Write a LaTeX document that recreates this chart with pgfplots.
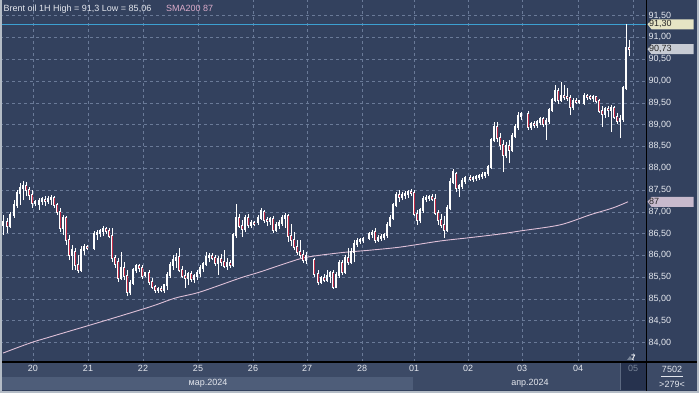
\documentclass[border=0pt]{standalone}
\usepackage{pgfplots}
\pgfplotsset{compat=1.18}
\usepackage{pgfplotstable}
\usepackage{fontspec}
\setmainfont{Liberation Sans}
\definecolor{bg}{RGB}{51,65,94}
\definecolor{dayrow}{RGB}{60,74,102}
\definecolor{monthlight}{RGB}{78,93,121}
\definecolor{box05}{RGB}{38,50,78}
\definecolor{gridc}{RGB}{106,122,152}
\definecolor{candred}{RGB}{196,44,72}
\definecolor{smac}{RGB}{222,192,216}
\definecolor{cyanl}{RGB}{60,160,210}
\definecolor{lab1}{RGB}{230,228,196}
\definecolor{lab2}{RGB}{200,204,212}
\definecolor{lab3}{RGB}{200,186,205}
\definecolor{txt}{RGB}{228,231,238}
\definecolor{smatxt}{RGB}{220,172,202}
\definecolor{framec}{RGB}{180,188,198}
\definecolor{dimtxt}{RGB}{120,132,152}
\newcommand{\lf}{\fontsize{9bp}{10bp}\selectfont}

\pgfplotstableread{
x o h l c
3 86.70 86.93 86.47 86.76
7 86.76 86.86 86.51 86.67
10 86.67 86.99 86.63 86.93
14 86.93 87.27 86.86 87.16
17 87.16 87.50 87.09 87.43
20 87.43 87.66 87.16 87.55
23 87.55 87.71 87.27 87.59
26 87.59 87.68 87.36 87.50
29 87.50 87.57 87.27 87.39
32 87.39 87.50 87.09 87.20
35 87.20 87.27 87.13 87.22
39 87.18 87.32 87.04 87.25
42 87.25 87.34 87.16 87.29
45 87.27 87.36 87.13 87.25
48 87.25 87.36 87.18 87.29
51 87.29 87.39 87.16 87.32
54 87.32 87.36 87.09 87.16
57 87.16 87.20 86.93 86.99
60 86.99 87.09 86.54 86.63
63 86.63 86.93 86.47 86.86
66 86.86 86.90 86.24 86.35
69 86.35 86.47 85.89 86.01
72 86.01 86.24 85.67 86.12
75 86.07 86.17 85.67 85.78
78 85.78 86.01 85.60 85.67
81 85.67 86.21 85.62 86.12
84 86.12 86.26 86.01 86.19
87 86.19 86.24 86.12 86.17
94 86.17 86.56 86.12 86.49
97 86.49 86.58 86.35 86.51
100 86.51 86.60 86.42 86.56
103 86.56 86.67 86.44 86.60
106 86.60 86.65 86.49 86.56
109 86.56 86.63 86.40 86.44
112 86.44 86.63 85.84 85.94
115 85.94 86.01 85.71 85.80
118 85.84 85.94 85.39 85.49
121 85.49 86.07 85.44 85.71
124 85.71 85.84 85.44 85.53
127 85.53 85.67 85.06 85.16
130 85.16 85.44 85.09 85.37
133 85.37 85.71 85.32 85.67
136 85.67 85.80 85.60 85.76
139 85.76 85.80 85.62 85.71
142 85.71 85.78 85.46 85.53
145 85.55 85.62 85.51 85.60
149 85.60 85.67 85.32 85.39
152 85.39 85.49 85.23 85.28
155 85.28 85.32 85.14 85.21
158 85.21 85.28 85.14 85.23
161 85.23 85.30 85.16 85.21
164 85.21 85.35 85.14 85.32
167 85.32 85.62 85.21 85.55
170 85.55 85.84 85.49 85.78
173 85.78 86.01 85.67 85.89
176 85.89 86.05 85.71 85.94
179 85.96 86.17 85.62 85.67
182 85.67 85.76 85.49 85.53
185 85.53 85.67 85.25 85.49
188 85.49 85.62 85.32 85.58
191 85.58 85.64 85.39 85.46
194 85.46 85.58 85.37 85.53
197 85.53 85.67 85.44 85.60
200 85.60 85.78 85.51 85.71
203 85.71 85.84 85.62 85.80
206 85.80 86.07 85.76 85.96
209 85.96 86.05 85.84 85.99
212 85.99 86.05 85.89 85.94
215 85.94 86.01 85.76 85.82
218 85.82 85.99 85.55 85.92
221 85.92 86.03 85.76 85.84
224 85.84 86.12 85.71 85.76
227 85.76 85.94 85.67 85.82
230 85.82 85.89 85.71 85.78
233 85.78 86.51 85.73 86.47
236 86.47 87.18 86.40 86.86
239 86.86 86.95 86.63 86.67
242 86.67 86.81 86.42 86.60
245 86.60 86.93 86.54 86.86
248 86.86 86.95 86.63 86.70
251 86.70 86.81 86.63 86.74
254 86.74 86.79 86.67 86.72
258 86.76 86.93 86.70 86.86
261 86.86 87.09 86.81 87.02
264 86.99 87.04 86.74 86.81
267 86.81 86.88 86.67 86.79
270 86.79 86.88 86.70 86.83
273 86.83 86.90 86.51 86.58
276 86.58 86.76 86.54 86.70
279 86.70 86.81 86.60 86.74
282 86.74 86.93 86.67 86.86
285 86.86 86.97 86.63 86.90
288 86.90 86.95 86.31 86.44
291 86.44 86.72 86.21 86.35
294 86.35 86.54 86.12 86.19
297 86.19 86.35 86.01 86.07
300 86.07 86.35 85.94 86.01
303 86.01 86.12 85.82 85.89
306 85.89 86.07 85.80 85.99
314 85.89 85.94 85.51 85.58
318 85.58 85.67 85.32 85.39
321 85.39 85.53 85.35 85.49
324 85.49 85.58 85.39 85.44
327 85.44 85.67 85.39 85.53
330 85.53 85.64 85.37 85.60
333 85.60 85.67 85.23 85.28
336 85.28 85.62 85.25 85.55
339 85.55 85.89 85.49 85.82
342 85.82 85.89 85.55 85.62
345 85.62 86.01 85.58 85.94
348 85.94 86.17 85.78 85.84
351 85.84 86.17 85.80 86.07
354 86.07 86.35 85.84 86.26
357 86.26 86.40 86.19 86.33
360 86.33 86.40 86.26 86.35
363 86.35 86.42 86.28 86.38
369 86.40 86.54 86.35 86.49
372 86.49 86.58 86.40 86.51
375 86.54 86.63 86.28 86.35
378 86.35 86.47 86.31 86.40
381 86.40 86.49 86.33 86.42
384 86.42 86.51 86.35 86.47
387 86.47 86.76 86.40 86.70
390 86.70 86.93 86.65 86.86
393 86.86 87.20 86.81 87.16
396 87.16 87.45 87.11 87.39
399 87.39 87.50 87.22 87.34
402 87.34 87.45 87.27 87.39
405 87.39 87.48 87.29 87.41
408 87.41 87.50 87.32 87.45
411 87.45 87.52 87.36 87.43
414 87.43 87.50 86.90 86.95
417 86.95 87.04 86.70 86.81
420 86.81 87.09 86.74 87.04
423 87.04 87.36 86.97 87.29
426 87.29 87.39 87.22 87.32
429 87.32 87.39 87.25 87.34
432 87.34 87.41 87.25 87.29
435 87.29 87.41 86.93 86.97
438 86.97 87.04 86.70 86.81
441 86.81 86.95 86.63 86.70
444 86.70 86.90 86.40 86.58
447 86.58 87.16 86.54 87.09
450 87.09 87.78 87.04 87.68
453 87.68 87.98 87.64 87.91
456 87.87 87.91 87.45 87.55
459 87.55 87.64 87.34 87.59
462 87.59 87.78 87.52 87.71
465 87.71 87.82 87.64 87.78
470 87.78 87.85 87.71 87.75
473 87.75 87.82 87.68 87.78
476 87.78 87.85 87.71 87.80
479 87.80 87.87 87.73 87.82
482 87.82 87.91 87.75 87.85
485 87.85 87.91 87.78 87.89
488 87.89 88.07 87.82 88.03
491 88.03 88.69 87.98 88.65
494 88.65 89.06 88.60 88.95
497 88.95 89.06 88.60 88.69
500 88.69 88.81 88.42 88.53
503 88.53 88.65 87.91 88.30
506 88.30 88.60 88.23 88.51
509 88.51 88.65 88.12 88.42
512 88.42 88.81 88.37 88.74
515 88.74 89.01 88.69 88.95
518 88.95 89.29 88.88 89.20
521 89.20 89.29 89.11 89.24
528 89.24 89.31 88.88 88.95
531 88.95 89.06 88.88 89.01
534 89.01 89.08 88.92 88.99
537 88.99 89.11 88.92 89.06
540 89.06 89.17 88.99 89.13
543 89.13 89.17 88.95 89.01
546 89.01 89.15 88.65 89.08
549 89.08 89.38 89.01 89.34
552 89.34 89.61 89.29 89.56
555 89.56 89.91 89.52 89.77
558 89.77 89.84 89.47 89.56
561 89.56 89.98 89.52 89.66
564 89.66 89.91 89.56 89.63
567 89.63 89.84 89.54 89.61
570 89.61 89.68 89.22 89.40
573 89.40 89.61 89.34 89.54
576 89.54 89.61 89.47 89.52
579 89.52 89.56 89.47 89.54
584 89.50 89.72 89.45 89.66
587 89.66 89.70 89.56 89.63
590 89.63 89.68 89.56 89.61
593 89.61 89.68 89.52 89.63
596 89.63 89.66 89.50 89.54
599 89.54 89.59 89.27 89.31
602 89.31 89.43 88.95 89.24
605 89.24 89.40 89.15 89.36
608 89.36 89.43 89.17 89.34
611 89.34 89.45 88.83 89.38
614 89.38 89.43 89.13 89.17
617 89.17 89.27 89.01 89.08
620 89.08 89.22 88.69 89.13
623 89.13 89.88 89.06 89.84
626 89.84 91.30 89.79 90.76
629 90.76 90.94 90.57 90.73
}\candles

\begin{document}
\begin{tikzpicture}
\useasboundingbox (0,0) rectangle (699bp,393bp);
\fill[bg] (0,0) rectangle (699bp,393bp);
\fill[dayrow] (0,16bp) rectangle (699bp,31bp);
\fill[monthlight] (0,3bp) rectangle (413bp,16bp);
\fill[dayrow] (413bp,3bp) rectangle (699bp,16bp);
\fill[box05] (620bp,3bp) rectangle (646bp,31bp);
\draw[dimtxt!60!bg, line width=0.6bp] (620bp,3bp) -- (620bp,31bp);
\begin{axis}[
  at={(0,31bp)}, anchor=south west,
  width=646bp, height=362bp, scale only axis,
  xmin=0, xmax=646, ymin=83.555, ymax=91.858,
  axis line style={draw=none},
  tick style={draw=none},
  xtick={33,88,143,198,253,307,362,414,468,522,578,633},
  xticklabels={20,21,22,25,26,27,28,01,02,03,04,{\textcolor{dimtxt}{05}}},
  ytick={84,84.5,85,85.5,86,86.5,87,87.5,88,88.5,89,89.5,90,90.5,91,91.5},
  yticklabel pos=right,
  grid=major,
  major grid style={gridc, dash pattern=on 3bp off 3bp, line width=0.6bp},
  ticklabel style={font=\lf, text=txt},
  yticklabel style={anchor=west, inner sep=0pt, xshift=2.5bp},
  xticklabel style={anchor=north, inner sep=0pt, yshift=-3bp},
  /pgf/number format/.cd, fixed, fixed zerofill, precision=2, use comma, assume math mode=true,
]
\addplot[cyanl, line width=0.9bp, mark=none] coordinates {(0,91.3) (646,91.3)};
\addplot[smac, line width=0.9bp, mark=none, smooth] coordinates {
(3,83.76) (30,83.99) (50,84.13) (100,84.47) (150,84.82) (175,85.02) (200,85.16)
(240,85.48) (260,85.62) (290,85.85) (307,85.96) (340,86.06) (370,86.12) (400,86.19)
(440,86.33) (467,86.40) (500,86.49) (520,86.56) (560,86.70) (590,86.93) (613,87.09) (628,87.23)};
\addplot[draw=none, mark=none, error bars/.cd, y dir=plus, y explicit, error mark=none,
  error bar style={draw=white, line width=0.6bp}]
  table[x=x, y=l, y error expr={\thisrow{h}-\thisrow{l}}] {\candles};
\addplot[draw=none, mark=none, error bars/.cd, y dir=plus, y explicit, error mark=none,
  error bar style={draw=white, line width=2.2bp, line cap=rect}]
  table[x=x, y expr={min(\thisrow{o},\thisrow{c})}, y error expr={abs(\thisrow{c}-\thisrow{o})}] {\candles};
\addplot[draw=none, mark=none, error bars/.cd, y dir=plus, y explicit, error mark=none,
  error bar style={draw=candred, line width=0.9bp}]
  table[x=x, y=c, y error expr={max(\thisrow{o}-\thisrow{c},0)}] {\candles};
\coordinate (pA) at (axis cs:646,91.3);
\coordinate (pB) at (axis cs:646,90.73);
\coordinate (pC) at (axis cs:646,87.23);
\end{axis}
\draw[black, line width=1.2bp] (646.5bp,0) -- (646.5bp,393bp);
\draw[black, line width=1.2bp] (0,31bp) -- (699bp,31bp);
% price labels
\fill[lab1] ([xshift=1.5bp]pA) -- ++(4bp,5bp) -- ++(42bp,0) -- ++(0,-10bp) -- ++(-42bp,0) -- cycle;
\node[anchor=west, inner sep=0pt, font=\lf, text=black!85] at ([xshift=3bp]pA) {91,30};
\fill[lab2] ([xshift=1.5bp]pB) -- ++(4bp,5bp) -- ++(42bp,0) -- ++(0,-10bp) -- ++(-42bp,0) -- cycle;
\node[anchor=west, inner sep=0pt, font=\lf, text=black!85] at ([xshift=3bp]pB) {90,73};
\fill[lab3] ([xshift=1.5bp]pC) -- ++(4bp,5bp) -- ++(42bp,0) -- ++(0,-10bp) -- ++(-42bp,0) -- cycle;
\node[anchor=west, inner sep=0pt, font=\lf, text=black!85] at ([xshift=3bp]pC) {87};
\draw[framec, line width=2bp] (1bp,393bp) -- (1bp,1bp) -- (698bp,1bp) -- (698bp,393bp);
\node[anchor=base west, inner sep=0pt, font=\lf, text=txt] at (3.5bp,381bp) {Brent oil 1H High = 91,3 Low = 85,06};
\node[anchor=base west, inner sep=0pt, font=\lf, text=smatxt] at (166bp,381bp) {SMA200 87};
\node[inner sep=0pt, font=\lf, text=txt] at (208bp,10bp) {мар.2024};
\node[inner sep=0pt, font=\lf, text=txt] at (530bp,10bp) {апр.2024};
\node[inner sep=0pt, font=\lf, text=txt] at (672bp,23.5bp) {7502};
\draw[txt, line width=0.5bp] (661bp,17bp) -- (683bp,17bp);
\node[inner sep=0pt, font=\lf, text=txt] at (672bp,9bp) {>279<};
\fill[dimtxt] (627bp,33bp) -- (630bp,37bp) -- (633bp,33bp) -- cycle;
\node[anchor=base west, inner sep=0pt, font=\bfseries\fontsize{8bp}{10bp}\selectfont, text=white] at (631bp,33bp) {7};
\end{tikzpicture}
\end{document}
